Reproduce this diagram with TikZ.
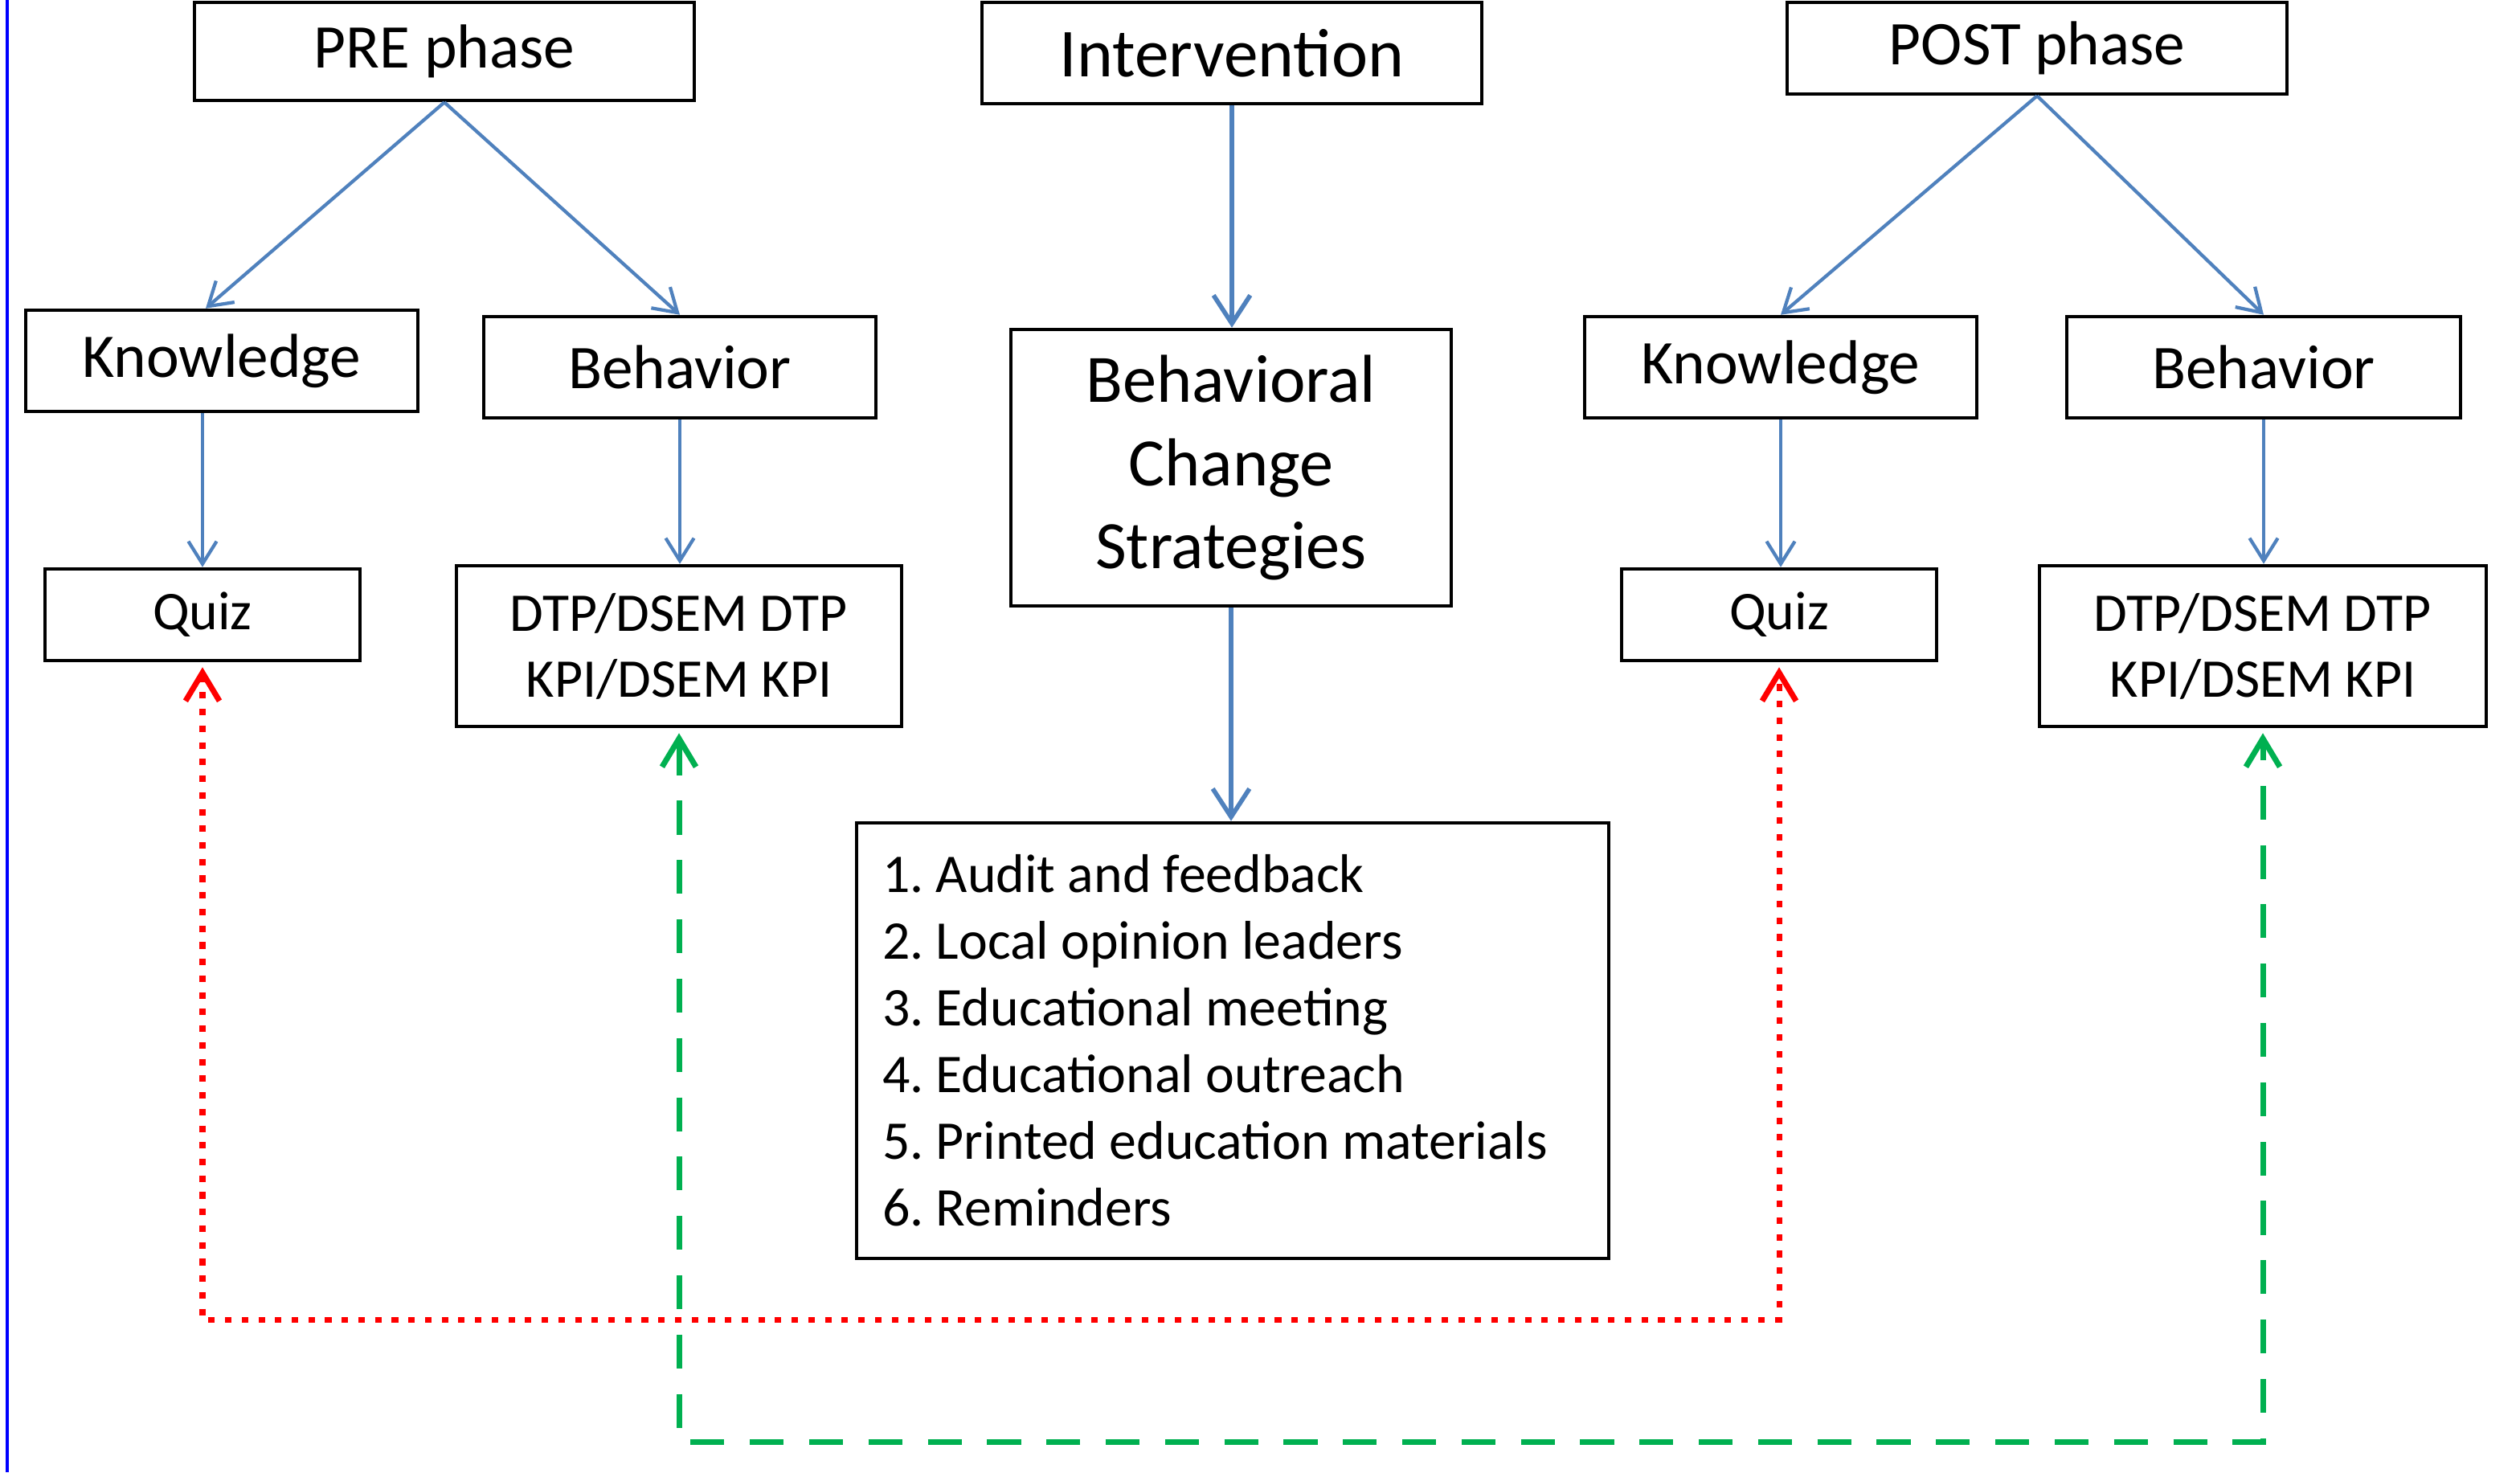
\documentclass[tikz,border=0pt]{standalone}
\usepackage{fontspec}
\setmainfont{Carlito}
\usetikzlibrary{arrows.meta}
\definecolor{arrowblue}{RGB}{79,129,189}
\definecolor{dotred}{RGB}{255,0,0}
\definecolor{dashgreen}{RGB}{0,176,80}
\definecolor{frameblue}{RGB}{0,0,255}
\frenchspacing
\begin{document}
\begin{tikzpicture}[
  box/.style={draw=black, line width=1.3pt, fill=white, inner sep=0pt, align=center},
  lbl/.style={font=\fontsize{22}{26}\selectfont},
  biglbl/.style={font=\fontsize{24.3}{29}\selectfont},
  small/.style={font=\fontsize{19.3}{23.3}\selectfont},
  flow/.style={draw=arrowblue, line width=1.2pt, -{Straight Barb[length=8pt,width=10pt]}},
  bigflow/.style={draw=arrowblue, line width=1.6pt, -{Straight Barb[length=10pt,width=13pt]}},
  quizlink/.style={draw=dotred, line width=2pt, dash pattern=on 2.3pt off 3.6pt,
    {Straight Barb[length=10pt,width=12pt]}-{Straight Barb[length=10pt,width=12pt]}},
  kpilink/.style={draw=dashgreen, line width=2pt, dash pattern=on 12pt off 9pt,
    {Straight Barb[length=10pt,width=12pt]}-{Straight Barb[length=10pt,width=12pt]}}
]
\useasboundingbox (0,0) rectangle (31.36,-18.32);
\fill[white] (0,0) rectangle (31.36,-18.32);
\draw[frameblue, line width=1.2pt] (0.09,0) -- (0.09,-18.32);

% top row
\node[box, lbl, minimum width=6.22cm, minimum height=1.22cm] (pre) at (5.53,-0.64) {PRE phase};
\node[box, biglbl, minimum width=6.22cm, minimum height=1.26cm] (int) at (15.33,-0.66) {Intervention};
\node[box, lbl, minimum width=6.22cm, minimum height=1.14cm] (post) at (25.35,-0.60) {POST phase};

% second row
\node[box, lbl, minimum width=4.88cm, minimum height=1.26cm] (kL) at (2.76,-4.49) {Knowledge};
\node[box, lbl, minimum width=4.88cm, minimum height=1.26cm] (bL) at (8.46,-4.57) {Behavior};
\node[box, minimum width=5.48cm, minimum height=3.44cm, font=\fontsize{24}{29.5}\selectfont] (bcs) at (15.32,-5.82) {Behavioral\\Change\\Strategies};
\node[box, lbl, minimum width=4.88cm, minimum height=1.26cm] (kR) at (22.16,-4.57) {Knowledge};
\node[box, lbl, minimum width=4.90cm, minimum height=1.26cm] (bR) at (28.17,-4.57) {Behavior};

% third row
\node[box, small, minimum width=3.92cm, minimum height=1.14cm] (qL) at (2.52,-7.65) {Quiz};
\node[box, small, minimum width=5.54cm, minimum height=2.00cm] (dL) at (8.45,-8.04) {DTP/DSEM DTP\\KPI/DSEM KPI};
\node[box, small, minimum width=3.92cm, minimum height=1.14cm] (qR) at (22.14,-7.65) {Quiz};
\node[box, small, minimum width=5.56cm, minimum height=2.00cm] (dR) at (28.16,-8.04) {DTP/DSEM DTP\\KPI/DSEM KPI};

% strategies list
\node[box, font=\fontsize{19.3}{23.6}\selectfont, align=flush left, text width=8.72cm, inner xsep=0.32cm,
      minimum height=5.42cm] (list) at (15.34,-12.95)
  {1. Audit and feedback\\
   2. Local opinion leaders\\
   3. Educational meeting\\
   4. Educational outreach\\
   5. Printed education materials\\
   6. Reminders};

% blue connectors
\draw[flow] (pre.south) -- ([xshift=-0.2cm]kL.north);
\draw[flow] (pre.south) -- (bL.north);
\draw[bigflow] (int.south) -- (int.south |- bcs.north);
\draw[bigflow] (bcs.south) -- (bcs.south |- list.north);
\draw[flow] (post.south) -- (kR.north);
\draw[flow] (post.south) -- (bR.north);
\draw[flow] (kL.south -| qL.north) -- (qL.north);
\draw[flow] (bL.south) -- (bL.south |- dL.north);
\draw[flow] (kR.south) -- (kR.south |- qR.north);
\draw[flow] (bR.south) -- (bR.south |- dR.north);

% comparison links
\coordinate (redrow) at (0,-16.42);
\coordinate (greenrow) at (0,-17.94);
\draw[quizlink] ([yshift=-0.06cm]qL.south) -- (qL.south |- redrow) -- (qR.south |- redrow) -- ([yshift=-0.06cm]qR.south);
\draw[kpilink] ([yshift=-0.06cm]dL.south) -- (dL.south |- greenrow) -- (dR.south |- greenrow) -- ([yshift=-0.06cm]dR.south);
\end{tikzpicture}
\end{document}
